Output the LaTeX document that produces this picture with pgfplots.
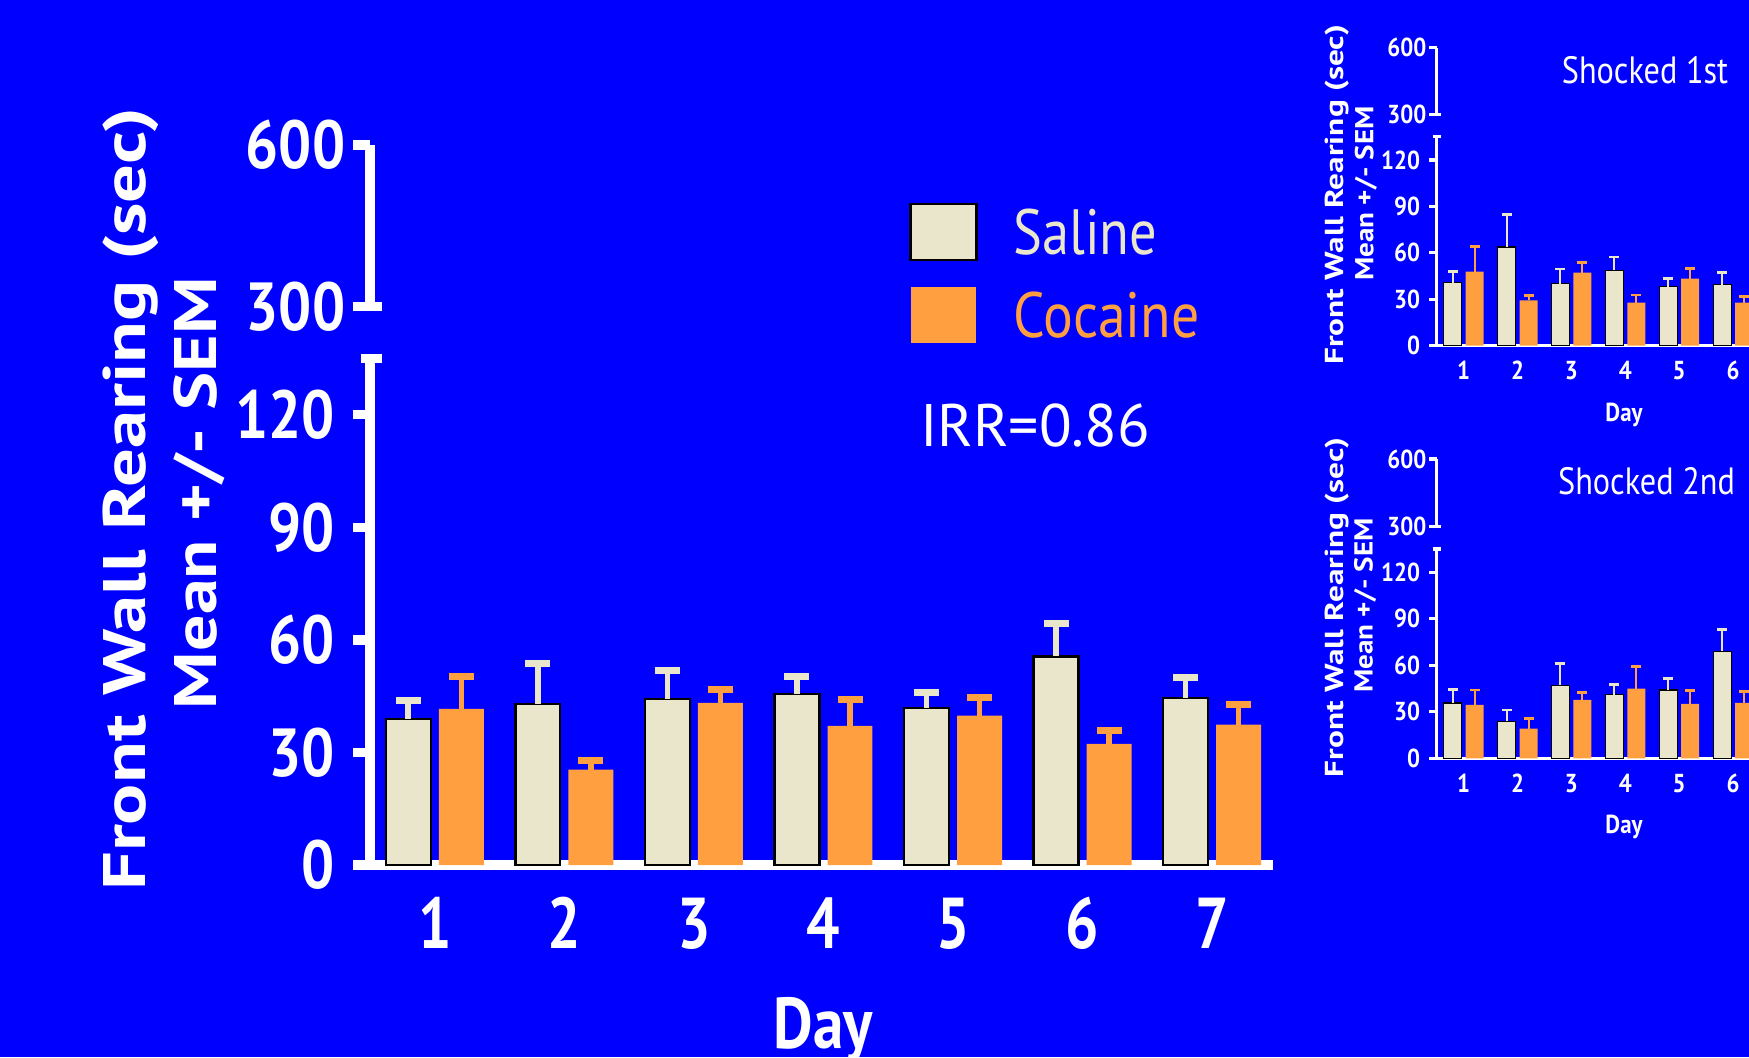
\documentclass[border=0pt]{standalone}
\usepackage{fontspec}
\setmainfont{PT Sans}
\usepackage{pgfplots}
\usepackage{pgfplotstable}
\pgfplotsset{compat=1.18}
\definecolor{bgblue}{RGB}{0,0,255}
\definecolor{saline}{RGB}{234,230,204}
\definecolor{cocaine}{RGB}{255,159,64}

\pgfplotstableread{
x y e
1 38.9 4.8
2 42.9 10.8
3 44.3 7.6
4 45.6 4.7
5 41.8 4.1
6 55.6 8.7
7 44.5 5.5
}\mainsal
\pgfplotstableread{
x y e
1 41.6 8.5
2 25.4 2.5
3 43.2 3.6
4 37.1 7.0
5 39.8 4.7
6 32.3 3.5
7 37.4 5.3
}\maincoc
\pgfplotstableread{
x y e
1 40.8 7.0
2 63.7 21.2
3 40.1 9.4
4 48.7 8.6
5 38.0 5.3
6 39.5 7.7
}\onesal
\pgfplotstableread{
x y e
1 47.9 16.4
2 29.2 3.2
3 47.2 6.8
4 27.9 4.9
5 43.3 6.4
6 27.9 3.8
}\onecoc
\pgfplotstableread{
x y e
1 35.7 8.9
2 23.8 7.4
3 47.2 13.8
4 41.1 6.7
5 44.0 7.7
6 68.9 14.2
}\twosal
\pgfplotstableread{
x y e
1 34.5 9.5
2 19.1 6.6
3 37.7 5.0
4 44.9 14.2
5 35.1 8.7
6 35.7 7.4
}\twococ

\pgfplotsset{
  bigax/.style={scale only axis, xmin=0.5, xmax=7.47, width=451.5pt,
    axis y line*=left, clip=false,
    axis line style={white, line width=4.7pt, line cap=butt},
    tick style={white, line width=4.7pt, line cap=butt},
    major tick length=8.75pt, ytick align=outside, ytick pos=left,
    /pgf/number format/assume math mode=true,
    yticklabel style={font=\bfseries\fontsize{34}{34}\selectfont, text=white, xscale=0.86, anchor=east, inner sep=0pt},
  },
  smallax/.style={scale only axis, xmin=0.5, xmax=7.47, width=187.8pt,
    axis y line*=left, clip=false,
    axis line style={white, line width=1.65pt, line cap=butt},
    tick style={white, line width=1.65pt, line cap=butt},
    major tick length=3.7pt, ytick align=outside, ytick pos=left,
    /pgf/number format/assume math mode=true,
    yticklabel style={font=\bfseries\fontsize{13}{13}\selectfont, text=white, xscale=0.88, anchor=east, inner sep=0pt},
  },
  bigsal/.style={ybar, bar width=0.347, bar shift=0pt, fill=saline, draw=black, line width=1.2pt,
    error bars/.cd, y dir=plus, y explicit,
    error bar style={saline, line width=2.8pt},
    error mark options={rotate=90, saline, line width=3.5pt, mark size=6.25pt}},
  bigcoc/.style={ybar, bar width=0.347, bar shift=0pt, fill=cocaine, draw=none,
    error bars/.cd, y dir=plus, y explicit,
    error bar style={cocaine, line width=2.8pt},
    error mark options={rotate=90, cocaine, line width=3.5pt, mark size=6.25pt}},
  smsal/.style={ybar, bar width=0.334, bar shift=0pt, fill=saline, draw=black, line width=0.6pt,
    error bars/.cd, y dir=plus, y explicit,
    error bar style={saline, line width=1pt},
    error mark options={rotate=90, saline, line width=1.4pt, mark size=2.5pt}},
  smcoc/.style={ybar, bar width=0.334, bar shift=0pt, fill=cocaine, draw=none,
    error bars/.cd, y dir=plus, y explicit,
    error bar style={cocaine, line width=1pt},
    error mark options={rotate=90, cocaine, line width=1.4pt, mark size=2.5pt}},
}

\begin{document}
\begin{tikzpicture}
\useasboundingbox (0,0) rectangle (874.5pt,528.5pt);
\fill[bgblue] (0,0) rectangle (874.5pt,528.5pt);

% ---------- main chart, lower part ----------
\begin{axis}[bigax, at={(185pt,96pt)}, anchor=south west, height=253.35pt,
  ymin=0, ymax=135, ytick={0,30,60,90,120},
  yticklabel style={xshift=-10pt},
  axis x line*=bottom,
  xtick={1,2,3,4,5,6,7}, xtick style={draw=none}, xtick align=inside,
  xticklabel style={font=\bfseries\fontsize{36}{36}\selectfont, text=white, xscale=0.82, anchor=base, inner sep=0pt, yshift=-41.5pt},
]
\addplot[bigsal] table[x expr=\thisrow{x}-0.205, y=y, y error=e]{\mainsal};
\addplot[bigcoc] table[x expr=\thisrow{x}+0.205, y=y, y error=e]{\maincoc};
\draw[white, line width=4.7pt] ([xshift=-4.5pt]axis cs:0.5,135) -- ([xshift=5.85pt]axis cs:0.5,135);
\end{axis}

% ---------- main chart, upper part ----------
\begin{axis}[bigax, at={(185pt,375.2pt)}, anchor=south west, height=80.8pt,
  ymin=300, ymax=600, ytick={300,600}, axis x line=none,
  yticklabel style={xshift=-4pt}]
\draw[white, line width=4.7pt] (axis cs:0.5,300) -- ([xshift=5.85pt]axis cs:0.5,300);
\end{axis}

% ---------- small chart 1 ----------
\begin{axis}[smallax, at={(718.35pt,355.65pt)}, anchor=south west, height=104.5pt,
  ymin=0, ymax=135, ytick={0,30,60,90,120},
  yticklabel style={xshift=-5pt},
  axis x line*=bottom,
  xtick={1,2,3,4,5,6}, xtick style={draw=none}, xtick align=inside,
  xticklabel style={font=\bfseries\fontsize{13}{13}\selectfont, text=white, xscale=0.88, anchor=base, inner sep=0pt, yshift=-17pt},
]
\addplot[smsal] table[x expr=\thisrow{x}-0.204, y=y, y error=e]{\onesal};
\addplot[smcoc] table[x expr=\thisrow{x}+0.204, y=y, y error=e]{\onecoc};
\draw[white, line width=1.65pt] ([xshift=-2pt]axis cs:0.5,135) -- ([xshift=2pt]axis cs:0.5,135);
\end{axis}
\begin{axis}[smallax, at={(718.35pt,471.35pt)}, anchor=south west, height=33.3pt,
  ymin=300, ymax=600, ytick={300,600}, axis x line=none,
  yticklabel style={xshift=-1.5pt}]
\draw[white, line width=1.65pt] (axis cs:0.5,300) -- ([xshift=2pt]axis cs:0.5,300);
\end{axis}

% ---------- small chart 2 ----------
\begin{axis}[smallax, at={(718.35pt,149.35pt)}, anchor=south west, height=104.65pt,
  ymin=0, ymax=135, ytick={0,30,60,90,120},
  yticklabel style={xshift=-5pt},
  axis x line*=bottom,
  xtick={1,2,3,4,5,6}, xtick style={draw=none}, xtick align=inside,
  xticklabel style={font=\bfseries\fontsize{13}{13}\selectfont, text=white, xscale=0.88, anchor=base, inner sep=0pt, yshift=-17pt},
]
\addplot[smsal] table[x expr=\thisrow{x}-0.204, y=y, y error=e]{\twosal};
\addplot[smcoc] table[x expr=\thisrow{x}+0.204, y=y, y error=e]{\twococ};
\draw[white, line width=1.65pt] ([xshift=-2pt]axis cs:0.5,135) -- ([xshift=2pt]axis cs:0.5,135);
\end{axis}
\begin{axis}[smallax, at={(718.35pt,265.15pt)}, anchor=south west, height=33.85pt,
  ymin=300, ymax=600, ytick={300,600}, axis x line=none,
  yticklabel style={xshift=-1.5pt}]
\draw[white, line width=1.65pt] (axis cs:0.5,300) -- ([xshift=2pt]axis cs:0.5,300);
\end{axis}

% ---------- texts ----------
\node[rotate=90, anchor=base, inner sep=0pt, text=white, font=\bfseries\fontsize{30}{30}\selectfont] at (72.5pt,279pt) {\scalebox{1.28}[1]{Front Wall Rearing (sec)}};
\node[rotate=90, anchor=base, inner sep=0pt, text=white, font=\bfseries\fontsize{30}{30}\selectfont] at (108.35pt,282pt) {\scalebox{1.2}[1]{Mean +/- SEM}};
\node[anchor=base, inner sep=0pt, text=white, xscale=0.85, font=\bfseries\fontsize{36}{36}\selectfont] at (411.75pt,4.5pt) {Day};

\draw[fill=saline, draw=black, line width=1.35pt] (455.35pt,398.5pt) rectangle (488.35pt,426.5pt);
\fill[cocaine] (455.35pt,357.15pt) rectangle (488pt,384.85pt);
\node[anchor=base west, inner sep=0pt, text=saline, xscale=0.85, font=\fontsize{32}{32}\selectfont] at (506.5pt,401pt) {Saline};
\node[anchor=base west, inner sep=0pt, text=cocaine, xscale=0.87, font=\fontsize{32}{32}\selectfont] at (506.5pt,359.5pt) {Cocaine};
\node[anchor=base west, inner sep=0pt, text=white, xscale=1.0, font=\fontsize{30}{30}\selectfont] at (459.8pt,305.15pt) {IRR=0.86};

\node[anchor=base, inner sep=0pt, text=white, xscale=0.85, font=\fontsize{19}{19}\selectfont] at (822.5pt,486.85pt) {Shocked 1st};
\node[anchor=base, inner sep=0pt, text=white, xscale=0.85, font=\fontsize{19}{19}\selectfont] at (823.25pt,281.5pt) {Shocked 2nd};

\node[anchor=base, inner sep=0pt, text=white, xscale=0.88, font=\bfseries\fontsize{13}{13}\selectfont] at (812pt,317.65pt) {Day};
\node[anchor=base, inner sep=0pt, text=white, xscale=0.88, font=\bfseries\fontsize{13}{13}\selectfont] at (812pt,111.85pt) {Day};

\node[rotate=90, anchor=base, inner sep=0pt, text=white, font=\bfseries\fontsize{13}{13}\selectfont] at (671.65pt,431pt) {\scalebox{1.28}[1]{Front Wall Rearing (sec)}};
\node[rotate=90, anchor=base, inner sep=0pt, text=white, font=\bfseries\fontsize{13}{13}\selectfont] at (686.65pt,431.75pt) {\scalebox{1.12}[1]{Mean +/- SEM}};
\node[rotate=90, anchor=base, inner sep=0pt, text=white, font=\bfseries\fontsize{13}{13}\selectfont] at (671.65pt,224.75pt) {\scalebox{1.28}[1]{Front Wall Rearing (sec)}};
\node[rotate=90, anchor=base, inner sep=0pt, text=white, font=\bfseries\fontsize{13}{13}\selectfont] at (686.35pt,225.75pt) {\scalebox{1.12}[1]{Mean +/- SEM}};
\end{tikzpicture}
\end{document}
